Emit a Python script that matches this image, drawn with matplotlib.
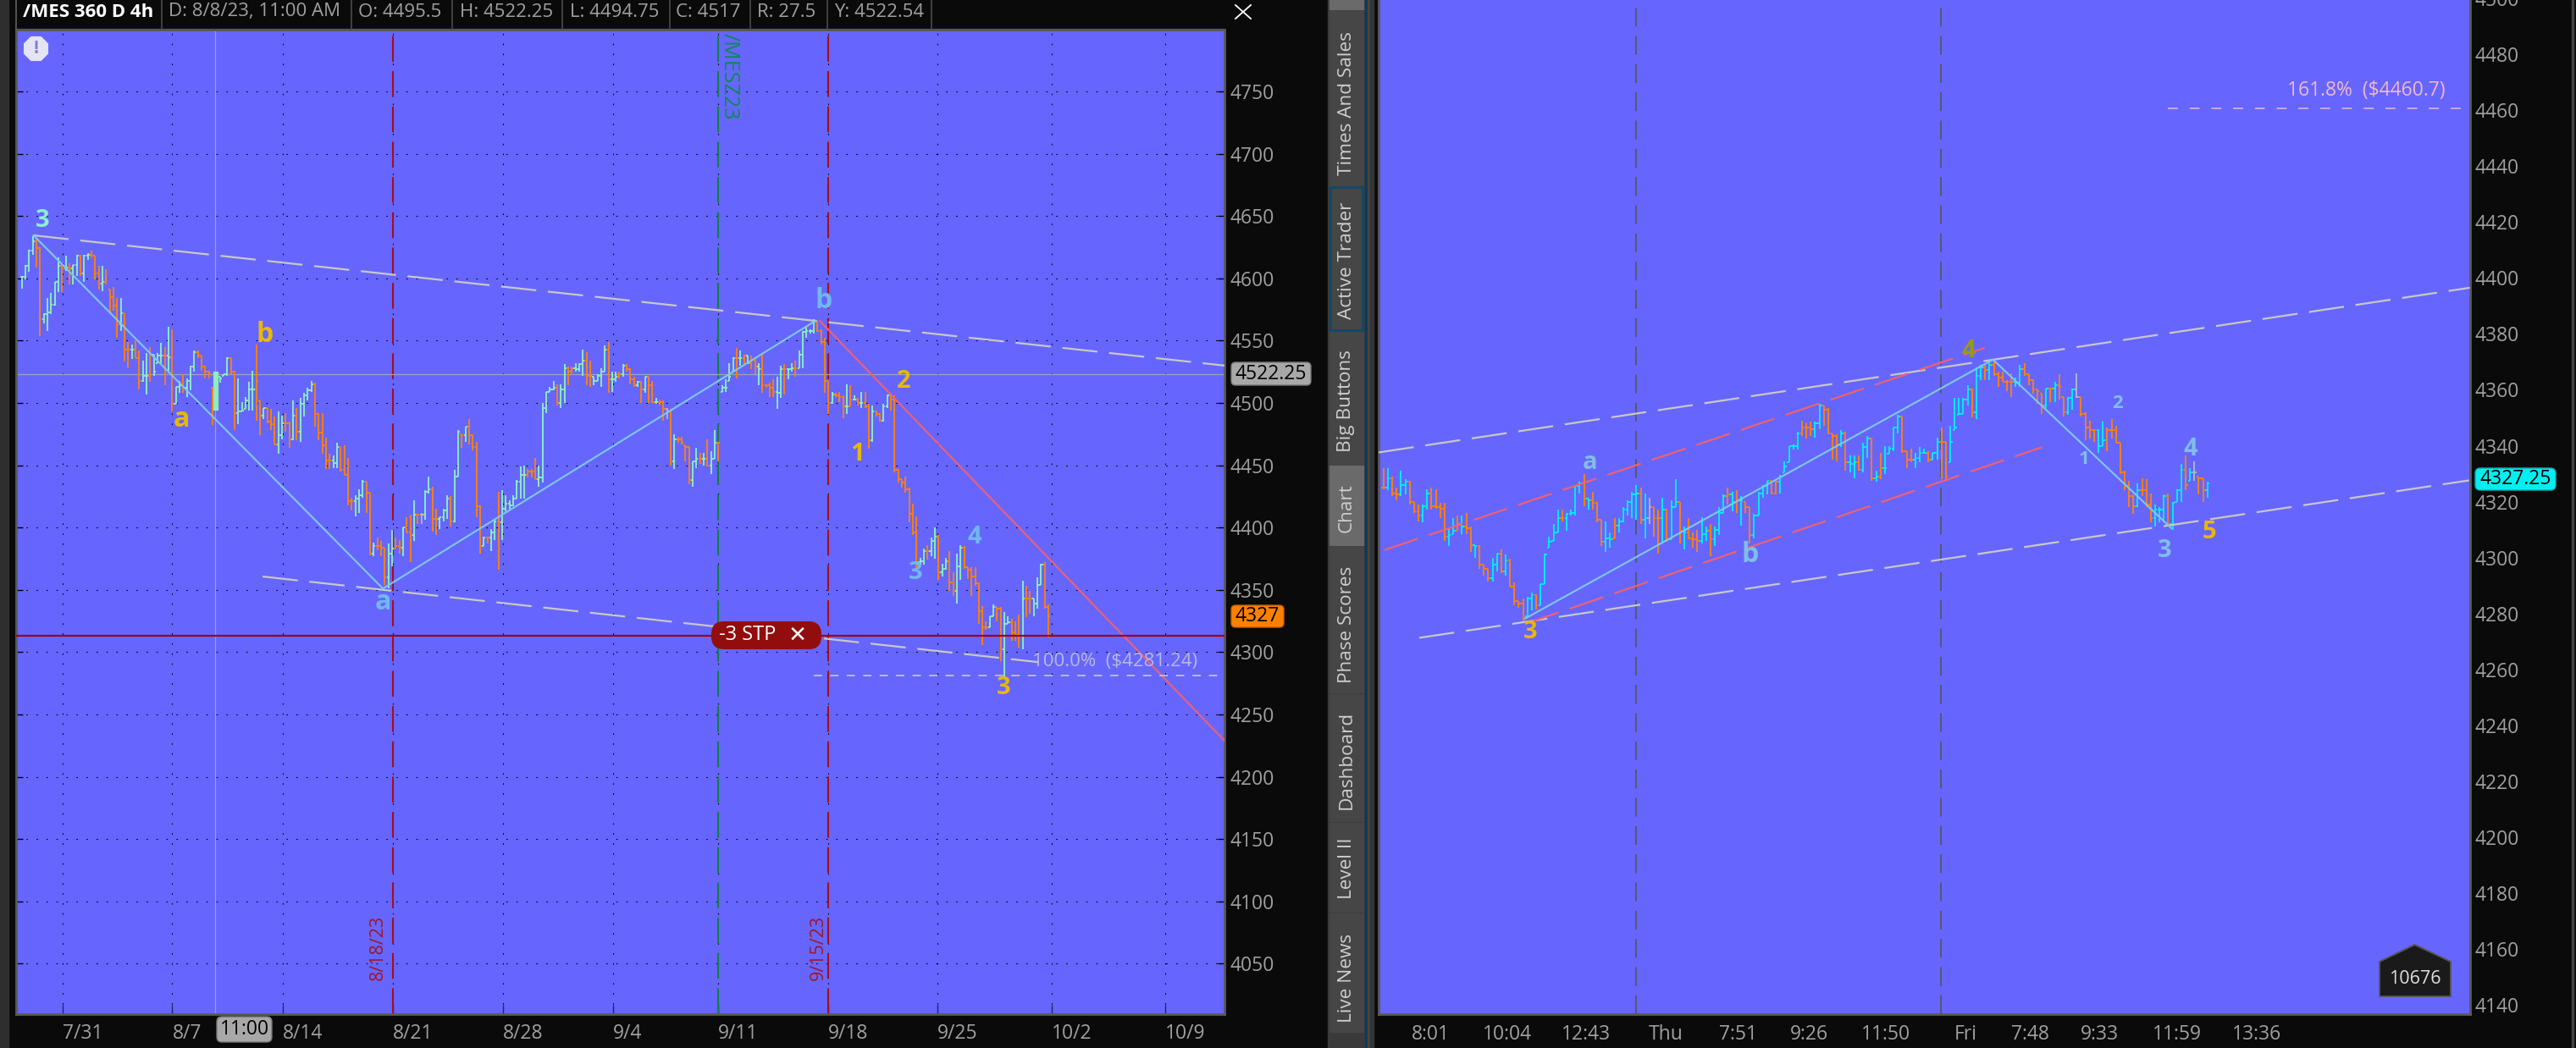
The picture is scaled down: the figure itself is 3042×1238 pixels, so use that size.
import matplotlib
matplotlib.use('Agg')
import matplotlib.pyplot as plt
import numpy as np
from matplotlib.patches import Rectangle, FancyBboxPatch, Polygon, RegularPolygon

plt.rcParams['font.family'] = ['Open Sans', 'DejaVu Sans']
plt.rcParams['lines.scale_dashes'] = False

W, H = 3042, 1238

# left chart, /MES 4h bars
left_high = [
    4602,4611,4623,4634,4631,4625,4572,4584,4588,4597,
    4617,4612,4618,4612,4611,4619,4619,4619,4620,4622,
    4618,4610,4610,4607,4591,4593,4584,4584,4572,4549,
    4547,4550,4542,4534,4540,4545,4539,4540,4548,4545,
    4561,4559,4513,4518,4523,4520,4530,4542,4542,4538,
    4530,4526,4512,4525,4521,4523,4537,4536,4526,4520,
    4501,4505,4517,4526,4547,4502,4496,4496,4495,4489,
    4493,4490,4492,4485,4502,4496,4504,4508,4512,4518,
    4516,4492,4492,4472,4459,4458,4468,4465,4466,4456,
    4424,4426,4431,4438,4437,4428,4388,4392,4389,4384,
    4387,4398,4392,4390,4400,4408,4410,4422,4411,4412,
    4430,4441,4433,4415,4408,4415,4426,4425,4446,4478,
    4475,4481,4487,4475,4469,4418,4393,4393,4399,4406,
    4429,4430,4426,4422,4426,4438,4449,4450,4447,4447,
    4456,4450,4500,4509,4513,4518,4515,4515,4531,4529,
    4529,4532,4532,4543,4541,4534,4521,4523,4528,4546,
    4549,4525,4525,4525,4531,4531,4528,4521,4518,4518,
    4521,4521,4518,4504,4503,4502,4496,4495,4475,4473,
    4473,4466,4465,4453,4464,4460,4460,4471,4461,4478,
    4469,4514,4519,4532,4537,4544,4542,4539,4538,4538,
    4536,4532,4539,4515,4516,4519,4521,4530,4531,4528,
    4532,4534,4542,4558,4562,4559,4567,4566,4559,4552,
    4518,4509,4508,4509,4506,4515,4514,4506,4504,4509,
    4509,4499,4498,4494,4492,4499,4507,4508,4506,4447,
    4439,4441,4432,4419,4409,4376,4383,4386,4392,4400,
    4394,4371,4376,4381,4364,4379,4386,4385,4368,4368,
    4368,4356,4337,4325,4329,4338,4336,4336,4332,4329,
    4327,4325,4330,4357,4353,4349,4343,4360,4371,4372,4338,
]
left_low = [
    4592,4599,4605,4619,4609,4554,4564,4558,4571,4578,
    4589,4589,4606,4595,4595,4602,4602,4597,4615,4616,
    4599,4591,4590,4595,4571,4574,4552,4558,4533,4528,
    4535,4536,4511,4517,4507,4517,4522,4532,4532,4514,
    4525,4493,4499,4508,4508,4505,4510,4525,4536,4526,
    4520,4520,4482,4494,4516,4522,4522,4523,4478,4483,
    4493,4495,4494,4494,4486,4474,4487,4484,4478,4467,
    4459,4471,4477,4464,4470,4470,4469,4489,4502,4509,
    4481,4470,4459,4447,4447,4448,4448,4445,4442,4418,
    4414,4409,4412,4424,4412,4378,4377,4382,4377,4354,
    4351,4369,4383,4379,4377,4396,4372,4389,4403,4403,
    4406,4427,4397,4394,4399,4405,4407,4401,4404,4441,
    4464,4469,4467,4462,4408,4379,4385,4387,4381,4390,
    4366,4390,4413,4414,4417,4423,4423,4423,4440,4440,
    4439,4433,4436,4492,4509,4510,4498,4496,4500,4514,
    4524,4525,4525,4522,4514,4513,4514,4518,4513,4525,
    4508,4509,4517,4520,4521,4525,4515,4513,4513,4500,
    4508,4500,4500,4499,4498,4486,4487,4450,4447,4468,
    4467,4453,4435,4433,4448,4451,4450,4449,4443,4455,
    4453,4509,4509,4518,4525,4520,4530,4530,4531,4527,
    4523,4514,4508,4512,4505,4505,4495,4504,4507,4519,
    4525,4521,4528,4528,4552,4556,4556,4557,4547,4508,
    4491,4499,4505,4501,4488,4491,4497,4502,4498,4496,
    4496,4463,4469,4489,4485,4485,4496,4494,4444,4436,
    4432,4428,4404,4394,4367,4370,4370,4374,4377,4375,
    4358,4361,4366,4349,4345,4339,4358,4367,4359,4345,
    4353,4323,4306,4318,4320,4329,4325,4293,4280,4323,
    4309,4309,4304,4302,4328,4331,4329,4335,4354,4335,4312,
]
left_close = [
    4601,4610,4622,4630,4624,4567,4571,4573,4579,4597,
    4610,4608,4609,4608,4611,4618,4604,4618,4619,4618,
    4604,4596,4597,4599,4585,4578,4563,4572,4543,4543,
    4543,4536,4518,4522,4522,4539,4525,4538,4538,4538,
    4537,4499,4513,4514,4512,4518,4529,4541,4538,4529,
    4525,4523,4508,4522,4520,4523,4536,4525,4492,4493,
    4494,4502,4511,4511,4518,4490,4496,4485,4483,4467,
    4474,4484,4484,4471,4490,4477,4499,4506,4510,4515,
    4491,4476,4466,4454,4454,4452,4465,4446,4442,4421,
    4421,4423,4426,4437,4428,4379,4385,4385,4384,4360,
    4379,4383,4385,4384,4400,4396,4394,4410,4410,4410,
    4429,4431,4407,4407,4408,4414,4423,4405,4441,4477,
    4474,4481,4474,4465,4417,4385,4392,4392,4396,4405,
    4404,4415,4419,4418,4423,4437,4442,4442,4445,4445,
    4439,4440,4496,4509,4511,4512,4500,4511,4528,4525,
    4528,4527,4531,4534,4522,4522,4518,4522,4525,4543,
    4519,4519,4521,4523,4530,4527,4519,4514,4517,4511,
    4521,4514,4501,4501,4501,4495,4493,4453,4471,4471,
    4468,4465,4438,4453,4455,4455,4455,4450,4455,4468,
    4468,4512,4512,4521,4536,4536,4536,4538,4532,4534,
    4529,4527,4514,4514,4512,4509,4508,4527,4527,4527,
    4528,4528,4539,4557,4558,4558,4565,4558,4549,4518,
    4500,4507,4506,4505,4497,4497,4503,4503,4500,4500,
    4497,4470,4493,4491,4486,4497,4506,4503,4446,4439,
    4436,4431,4411,4396,4372,4373,4381,4381,4389,4393,
    4364,4367,4373,4356,4349,4369,4384,4368,4366,4361,
    4355,4333,4320,4320,4329,4336,4335,4302,4323,4324,
    4316,4314,4313,4343,4343,4343,4339,4354,4370,4336,4329,
]
left_dirs = ("u4 d2 u5 d1 u1 d1 u2 d1 u2 d3 u1 d4 u1 d2 u1 d2 u2 d1 u3 d1 u1 d1 u2 d1 u3 d5 u4 d2 "
             "u5 d2 u1 d3 u2 d2 u1 d1 u4 d5 u2 d4 u3 d2 u1 d3 u2 d2 u1 d2 u1 d1 n1 u2 d2 u3 d1 u2 "
             "d1 u1 d4 u1 d1 u2 d1 u7 d3 u5 d1 u2 d2 u3 d2 u4 d1 u2 d1 u1 d3 u1 d1 u1 d2 u1 d2 n1 "
             "d1 u1 d4 u2 d1 u1 d1 u2 d1 u4 d1 u1 d1 u1 d2 u1 d4 u2 d1 u2 d1 u5 d4 u1 d3 u1 d1 u1 "
             "d1 u1 d2 u1 d2 u2 d8 u2 d1 u2 d1 u2 d2 u2 d7 u2 d2 u2 d3 u1 d2 u3 d2")

# right chart, intraday bars
right_high = [
    4332,4332,4329,4325,4331,4328,4327.5,4320,4319,4319,
    4324.5,4325,4324.5,4319.5,4319.5,4310.5,4314,4315,4315,4316,
    4311,4304.5,4304.5,4297.5,4296,4300,4301.5,4303,4301,4299.5,
    4291,4284.5,4285.5,4286,4287.5,4287,4290.5,4301.5,4307.5,4312,
    4317,4317,4316,4317,4325.5,4327,4330,4321,4323.5,4320,
    4313.5,4313,4309,4314,4314,4318,4320.5,4323.5,4326,4325,
    4323,4321.5,4318,4317,4321.5,4317.5,4320.5,4328,4320,4311,
    4314,4309,4310,4314.5,4311,4312,4311,4318,4322.5,4325,
    4323.5,4324,4322,4320,4318,4315.5,4323.5,4326,4327.5,4327.5,
    4327.5,4329.5,4334.5,4340,4340.5,4345,4349,4348,4348.5,4348.5,
    4355,4354.5,4353.5,4344.5,4344,4345.5,4345,4336.5,4336.5,4336.5,
    4341,4343.5,4343,4331,4337.5,4340,4340,4346.5,4351,4350.5,
    4338,4339,4337.5,4339.5,4339,4338,4337.5,4343,4346.5,4341.5,
    4347,4357,4357,4357,4361.5,4360.5,4368,4369,4369,4370.5,
    4371,4366.5,4366.5,4363.5,4366,4364.5,4369,4369.5,4365.5,4363.5,
    4360,4358.5,4360.5,4360.5,4363,4365.5,4357.5,4357.5,4360.5,4366,
    4357.5,4352,4349,4346,4346,4348.5,4346.5,4349.5,4347,4341,
    4331,4327.5,4322.5,4326.5,4328.5,4328,4323,4319,4318,4322.5,
    4323,4320,4324.5,4333.5,4336.5,4332,4334.5,4329,4328.5,4327,
]
right_low = [
    4324.5,4324,4322,4320.5,4322,4322.5,4319,4316,4313,4312.5,
    4317,4317,4317.5,4314,4306,4304,4308.5,4309.5,4308.5,4308.5,
    4302,4300,4296,4293.5,4291.5,4291.5,4295,4294.5,4293.5,4289.5,
    4283,4282,4277,4279,4281,4281.5,4283,4290.5,4303.5,4306,
    4309,4313,4309.5,4315,4315,4323,4318.5,4317,4317,4312.5,
    4304,4302,4303.5,4307,4309,4312.5,4315,4314,4313.5,4312,
    4307,4312,4307.5,4301.5,4305.5,4305.5,4306.5,4318,4305,4303,
    4306.5,4303.5,4302,4305,4306,4300.5,4304,4308,4316,4319,
    4316.5,4316,4311.5,4316,4305,4307,4315,4321.5,4322.5,4322.5,
    4322.5,4323,4330.5,4334,4338.5,4338.5,4343.5,4342.5,4343.5,4343,
    4346,4347,4344.5,4335,4334.5,4339.5,4331,4330.5,4328.5,4331,
    4330.5,4335.5,4327.5,4327,4328,4330,4337,4338,4344.5,4337.5,
    4332,4334,4332,4334,4337,4334,4335,4335,4328,4327.5,
    4334,4345.5,4351,4351.5,4354.5,4350,4349.5,4363.5,4363.5,4363.5,
    4365,4361,4363,4359.5,4357.5,4361,4361,4365,4361.5,4358.5,
    4355,4351.5,4353.5,4355.5,4355.5,4356.5,4350.5,4351,4353,4357,
    4350.5,4342,4342.5,4341.5,4337.5,4340,4338,4342.5,4341,4330,
    4324,4318,4315.5,4318,4322,4318,4312.5,4311,4312.5,4312.5,
    4311,4310,4320,4320,4324,4327.5,4327.5,4322.5,4320,4321.5,
]
right_close = [
    4325,4328.5,4323,4322.5,4326,4327,4320,4316.5,4315,4318.5,
    4323,4318.5,4318,4317.5,4307.5,4308,4309.5,4312,4311,4310.5,
    4304.5,4304,4297.5,4296,4292.5,4297.5,4301.5,4295,4299,4289.5,
    4284.5,4283.5,4278.5,4285.5,4286.5,4283,4290.5,4301,4305.5,4309,
    4314,4314,4315.5,4316,4325.5,4326.5,4321,4320.5,4319.5,4313.5,
    4305.5,4307,4306.5,4311.5,4313,4317,4320,4322.5,4323,4313.5,
    4314,4318,4314,4314,4317,4306.5,4318,4320,4309.5,4309,
    4307,4306.5,4306,4308.5,4309.5,4306.5,4310,4316,4322,4322.5,
    4320,4320.5,4320.5,4318,4308,4315,4323,4325.5,4327.5,4323,
    4327,4329,4332.5,4340,4340,4344.5,4346.5,4346.5,4346,4348,
    4354.5,4353,4344.5,4343.5,4340.5,4344.5,4334,4333.5,4334,4331.5,
    4339.5,4342.5,4328.5,4329,4332,4332,4339,4346.5,4350.5,4338,
    4335,4335,4335.5,4337.5,4337.5,4335,4337.5,4341.5,4341.5,4329,
    4341.5,4346.5,4351.5,4356.5,4360,4352,4365,4368,4367,4369,
    4365.5,4364.5,4363,4363,4363,4362.5,4367.5,4365.5,4363.5,4360,
    4359.5,4354.5,4360.5,4360.5,4361.5,4361,4352,4357,4360,4357.5,
    4351.5,4346.5,4345.5,4345.5,4340,4342,4345.5,4345.5,4341,4330.5,
    4325.5,4322,4318.5,4324,4324,4319,4314,4317,4317,4322,
    4312,4319.5,4324,4331.5,4326,4330.5,4330.5,4328.5,4324,4326.5,
]
right_dirs = ("d1 u1 d2 u2 d3 u2 d4 u2 d1 u1 d2 u1 d3 u2 d1 u1 d4 u2 d1 u5 d1 u4 d1 u1 d3 u2 d1 u5 "
              "d1 u1 n1 d2 u1 d1 u2 d1 u1 d3 u2 d1 u3 d1 u1 d1 u1 d2 u4 d2 u5 d3 u2 d4 u1 d1 u2 d1 "
              "u2 d1 u1 d1 u4 d3 u3 d1 u2 d2 u5 d1 u2 d1 u1 d5 u2 d5 u1 d1 u1 d2 u2 n1 d4 u2 d7 u1 "
              "d3 u3 d1 u3 d1 u1 n1 d2 u1")

# axis labels
left_yticks = list(range(4050, 4800, 50))
left_xpos = [11.25, 41.06, 71.1, 101.2, 131.2, 161.3, 189.9, 219.9, 249.8, 280.8, 311.8]
left_xlabels = ['7/31', '8/7', '8/14', '8/21', '8/28', '9/4', '9/11', '9/18', '9/25', '10/2', '10/9']
right_yticks = list(range(4140, 4520, 20))
right_xpos = [10.7, 28.4, 46.5, 64.7, 81.4, 97.6, 115.2, 133.5, 148.4, 164.3, 182.1, 200.3]
right_xlabels = ['8:01', '10:04', '12:43', 'Thu', '7:51', '9:26', '11:50', 'Fri', '7:48', '9:33', '11:59', '13:36']

# drawings on the charts: (bar index, price) pairs
left_upper_x, left_upper_y = [3.2, 328], [4634.5, 4530]
left_lower_x, left_lower_y = [65.7, 277.2], [4360.7, 4292]
left_wave_x, left_wave_y = [3.2, 98.5, 216.5], [4634.5, 4351, 4566]
left_red_x, left_red_y = [217.6, 328], [4566, 4229]
right_upper_x, right_upper_y = [-1.1, 249.2], [4337.6, 4396.5]
right_lower_x, right_lower_y = [8.2, 249], [4271.3, 4327.6]
right_red1_x, right_red1_y = [0.2, 137.9], [4302.7, 4375]
right_red2_x, right_red2_y = [32.5, 151.1], [4276.3, 4339.5]
right_wave_x, right_wave_y = [32.5, 139.8, 180.7], [4278.2, 4370.8, 4310.5]

tabs = ['Times And Sales', 'Active Trader', 'Big Buttons', 'Chart',
        'Phase Scores', 'Dashboard', 'Level II', 'Live News']
tab_edges = [12, 219.5, 391, 549, 645, 819, 971, 1078, 1220]
tab_centers = [122, 308, 474, 600, 738, 898, 1026, 1155]

BG = '#6666FF'
DARK = '#0A0A0A'
LABEL = '#A0A0A0'
ORANGE = '#FF7F0E'
GRAYLINE = '#C8C8C8'
REDLINE = '#F06070'
WAVE = '#7FC8E6'
YELLOW = '#E8B800'
BLUE = '#70B8F0'


def expand_dirs(text):
    return ''.join(tok[0] * int(tok[1:]) for tok in text.split())


def add_panel(fig, x0, y0, x1, y1):
    ax = fig.add_axes([x0 / W, 1 - y1 / H, (x1 - x0) / W, (y1 - y0) / H], zorder=1)
    ax.set_facecolor(BG)
    for s in ax.spines.values():
        s.set_color('#5A5A5A')
        s.set_linewidth(2)
    return ax


def draw_bars(ax, highs, lows, closes, dirs, up_color):
    highs, lows, closes = np.array(highs), np.array(lows), np.array(closes)
    dirs = expand_dirs(dirs)
    assert len(highs) == len(lows) == len(closes) == len(dirs), (len(highs), len(lows), len(closes), len(dirs))
    x = np.arange(len(highs))
    opens = np.clip(np.r_[closes[0], closes[:-1]], lows, highs)
    pal = {'u': up_color, 'd': ORANGE, 'n': '#B4B4C8'}
    cols = [pal[d] for d in dirs]
    ax.vlines(x, lows, highs, colors=cols, linewidth=1.35, zorder=3)
    ax.hlines(opens, x - 0.48, x, colors=cols, linewidth=1.35, zorder=3)
    ax.hlines(closes, x, x + 0.48, colors=cols, linewidth=1.35, zorder=3)


fig = plt.figure(figsize=(W / 100, H / 100), dpi=100, facecolor=DARK)

# flat background blocks
bg = fig.add_axes([0, 0, 1, 1], zorder=0)
bg.set_xlim(0, W)
bg.set_ylim(H, 0)
bg.axis('off')
bg.add_patch(Rectangle((0, 0), 10, H, color='#2E2E2E'))
bg.add_patch(Rectangle((1568, 0), 44, H, color='#3A3A3A'))
bg.add_patch(Rectangle((1612, 0), 3, H, color='#0A3A55'))
bg.add_patch(Rectangle((1615, 0), 2, H, color='#444444'))
bg.add_patch(Rectangle((1618, 0), 4, H, color='#333333'))
bg.add_patch(Rectangle((3037, 0), 2, H, color='#444444'))

# left chart
step_l = 4.33
ax1 = add_panel(fig, 19, 35, 1446, 1198)
ax1.set_xlim((19 - 25.7) / step_l, (1446 - 25.7) / step_l)
ax1.set_ylim(4600 - (1198 - 328.8) / 1.472, 4600 + (328.8 - 35) / 1.472)
ax1.set_yticks(left_yticks)
ax1.set_xticks(left_xpos)
ax1.set_xticklabels(left_xlabels, ha='left')
ax1.grid(True, color='black', linewidth=0.8, linestyle=(0, (1.2, 7.3)))
ax1.set_axisbelow(True)
ax1.tick_params(axis='y', direction='in', length=6, width=1, color='black', left=True, right=True,
                labelleft=False, labelright=True, labelsize=16.5, labelcolor=LABEL, pad=5)
ax1.tick_params(axis='x', direction='in', length=8, width=1, color='#222266',
                labelsize=16.5, labelcolor=LABEL, pad=8)

dash_v = (0, (22, 8))
ax1.axvline(101.2, color='#A01020', linewidth=1.5, linestyle=dash_v, zorder=2)
ax1.axvline(219.9, color='#A01020', linewidth=1.5, linestyle=dash_v, zorder=2)
ax1.axvline(189.9, color='#108040', linewidth=1.5, linestyle=dash_v, zorder=2)
ax1.axhline(4523, color='#A0A0C0', linewidth=0.9, zorder=2)
ax1.axvline(52.7, color='#A0A0C0', linewidth=0.9, zorder=2)

draw_bars(ax1, left_high, left_low, left_close, left_dirs, '#8CEEC0')
ax1.vlines(53, left_low[53], left_high[53], color='#8CEEC0', linewidth=4.5, zorder=3)

dash_long = (0, (30, 10))
ax1.plot(left_upper_x, left_upper_y, color=GRAYLINE, linewidth=1.6, linestyle=dash_long, zorder=4)
ax1.plot(left_lower_x, left_lower_y, color=GRAYLINE, linewidth=1.6, linestyle=dash_long, zorder=4)
ax1.plot(left_wave_x, left_wave_y, color=WAVE, linewidth=1.5, zorder=4)
ax1.plot(left_red_x, left_red_y, color=REDLINE, linewidth=1.5, zorder=4)
ax1.axhline(4313, color='#A00000', linewidth=1.6, zorder=4)
ax1.plot([216, 328], [4281.24, 4281.24], color=GRAYLINE, linewidth=1.2, linestyle=(0, (7, 7)), zorder=4)

# right chart
step_r = 5.148
ax2 = add_panel(fig, 1628, -2, 2917, 1198)
ax2.set_xlim((1628 - 1633.8) / step_r, (2917 - 1633.8) / step_r)
ax2.set_ylim(4460 - (1198 - 126) / 3.316, 4460 + (126 + 2) / 3.316)
ax2.set_yticks(right_yticks)
ax2.set_xticks(right_xpos)
ax2.set_xticklabels(right_xlabels)
ax2.tick_params(axis='y', length=0, left=False, labelleft=False, labelright=True, labelsize=16.5,
                labelcolor=LABEL, pad=4)
ax2.tick_params(axis='x', length=0, labelsize=16.5, labelcolor=LABEL, pad=9)

ax2.axvline(57.9, color='#555566', linewidth=1.3, linestyle=(0, (16, 8)), zorder=2)
ax2.axvline(127.9, color='#555566', linewidth=1.3, linestyle=(0, (16, 8)), zorder=2)

draw_bars(ax2, right_high, right_low, right_close, right_dirs, '#00F0F0')

ax2.plot(right_upper_x, right_upper_y, color=GRAYLINE, linewidth=1.6, linestyle=dash_long, zorder=4)
ax2.plot(right_lower_x, right_lower_y, color=GRAYLINE, linewidth=1.6, linestyle=dash_long, zorder=4)
ax2.plot(right_red1_x, right_red1_y, color=REDLINE, linewidth=1.6, linestyle=dash_long, zorder=4)
ax2.plot(right_red2_x, right_red2_y, color=REDLINE, linewidth=1.6, linestyle=dash_long, zorder=4)
ax2.plot(right_wave_x, right_wave_y, color=WAVE, linewidth=1.5, zorder=4)
ax2.plot([180, 249.2], [4460.7, 4460.7], color='#F0B8C8', linewidth=1.1, linestyle=(0, (8.5, 10)), zorder=4)

# everything placed by screen position goes on a top layer
ui = fig.add_axes([0, 0, 1, 1], zorder=2)
ui.set_xlim(0, W)
ui.set_ylim(H, 0)
ui.axis('off')
ui.patch.set_alpha(0)

# header strip
ui.add_patch(Rectangle((19, 0), 1427, 34, color=DARK))
ui.plot([19, 1446], [34.5, 34.5], color='#555555', linewidth=1.6)
ui.plot([19, 19], [0, 34], color='#555555', linewidth=1.4)
for sep in [191, 415, 534, 664, 791, 886, 977, 1100]:
    ui.plot([sep, sep], [0, 34], color='#4A4A4A', linewidth=1.2)
ui.text(27, 14, '/MES 360 D 4h', color='white', fontsize=16, fontweight='bold', va='center')
header = [(199, 'D: 8/8/23, 11:00 AM'), (423, 'O: 4495.5'), (543, 'H: 4522.25'), (673, 'L: 4494.75'),
          (798, 'C: 4517'), (894, 'R: 27.5'), (985, 'Y: 4522.54')]
for hx, htxt in header:
    ui.text(hx, 14, htxt, color=LABEL, fontsize=16, va='center')

# tab strip
for i, name in enumerate(tabs):
    y0, y1 = tab_edges[i], tab_edges[i + 1]
    col = '#6A6A6A' if name == 'Chart' else '#464646'
    ui.add_patch(Rectangle((1570, y0 + 1), 40, y1 - y0 - 2, color=col))
    if name == 'Active Trader':
        ui.add_patch(Rectangle((1571, y0 + 1), 38, y1 - y0 - 2, fill=False, edgecolor='#0E4A68', linewidth=2))
    ui.text(1590, tab_centers[i], name, color='#CFCFCF', fontsize=16.2, rotation=90, ha='center', va='center')
ui.add_patch(Rectangle((1570, 0), 40, 11, color='#6A6A6A'))

# small icons
ui.add_patch(RegularPolygon((42.5, 57.5), 8, radius=15, orientation=np.pi / 8, color='#E4E4F4'))
ui.text(42.5, 57.5, '!', color='#8080D8', fontsize=15, fontweight='bold', ha='center', va='center')
ui.plot([1459, 1477], [6, 22], color='white', linewidth=1.3)
ui.plot([1459, 1477], [22, 6], color='white', linewidth=1.3)

# price tags
ui.add_patch(FancyBboxPatch((1457, 431), 88, 21, boxstyle='round,pad=3,rounding_size=5', fc='#A8A8A8', ec='#777777'))
ui.text(1501, 442, '4522.25', color='black', fontsize=16.5, ha='center', va='center')
ui.add_patch(FancyBboxPatch((1457, 718), 56, 20, boxstyle='round,pad=3,rounding_size=5', fc='#FF8000', ec='#C06000'))
ui.text(1485, 728, '4327', color='black', fontsize=16.5, ha='center', va='center')
ui.add_patch(FancyBboxPatch((2926, 556), 89, 20, boxstyle='round,pad=3,rounding_size=6', fc='#00F0F0', ec='#00B0B0'))
ui.text(2970.5, 566, '4327.25', color='black', fontsize=16.5, ha='center', va='center')
ui.add_patch(FancyBboxPatch((259, 1204), 59, 24, boxstyle='round,pad=3,rounding_size=6', fc='#A8A8A8', ec='#777777'))
ui.text(288.5, 1216, '11:00', color='black', fontsize=16.5, ha='center', va='center')

# stop order pill
ui.add_patch(FancyBboxPatch((846, 740), 118, 21, boxstyle='round,pad=6,rounding_size=15', fc='#920E0E', ec='none'))
ui.text(883, 750, '-3 STP', color='white', fontsize=17, ha='center', va='center')
ui.text(942, 750, '✕', color='white', fontsize=19, fontweight='bold', ha='center', va='center')

# vertical line captions
ui.text(861, 90, '/MESZ23', color='#0E8A50', fontsize=18, rotation=-90, ha='center', va='center')
ui.text(446, 1119, '8/18/23', color='#A01525', fontsize=15.5, rotation=90, ha='center', va='center')
ui.text(966, 1119, '9/15/23', color='#A01525', fontsize=15.5, rotation=90, ha='center', va='center')

# fib captions
ui.text(1317, 781, '100.0%  ($4281.24)', color='#B8B8DC', fontsize=16, ha='center', va='center')
ui.text(2794, 107, '161.8%  ($4460.7)', color='#F0B8C8', fontsize=16.5, ha='center', va='center')

# wave counts
waves = [
    (50, 260, '3', '#8CEFD0', 21), (214, 496, 'a', YELLOW, 23), (313, 396, 'b', YELLOW, 23),
    (973, 356, 'b', BLUE, 23), (452, 712, 'a', BLUE, 23), (1013, 536, '1', YELLOW, 21),
    (1067, 450, '2', YELLOW, 21), (1081, 677, '3', BLUE, 21), (1151, 635, '4', BLUE, 21),
    (1185, 812, '3', YELLOW, 21),
    (1878, 546, 'a', '#80BEE8', 21), (2067, 655, 'b', '#80BEE8', 23), (1807, 746, '3', YELLOW, 21),
    (2325, 414, '4', '#9A9A10', 21), (2501, 476, '2', '#80BEE8', 16), (2461, 542, '1', '#80BEE8', 16),
    (2587, 530, '4', '#80BEE8', 21), (2556, 650, '3', '#80BEE8', 21), (2609, 628, '5', YELLOW, 21),
]
for wx, wy, wtxt, wcol, wsize in waves:
    ui.text(wx, wy, wtxt, color=wcol, fontsize=wsize, fontweight='bold', ha='center', va='center')

# volume badge
ui.add_patch(Polygon([(2810, 1136), (2851.5, 1116), (2894, 1136), (2894, 1177), (2810, 1177)],
                     closed=True, fc='#1A1A1A', ec='#555555', linewidth=1.4))
ui.text(2852, 1156, '10676', color='#E0E0E0', fontsize=15.5, ha='center', va='center')

fig.savefig('out.png', dpi=100, facecolor=fig.get_facecolor())
